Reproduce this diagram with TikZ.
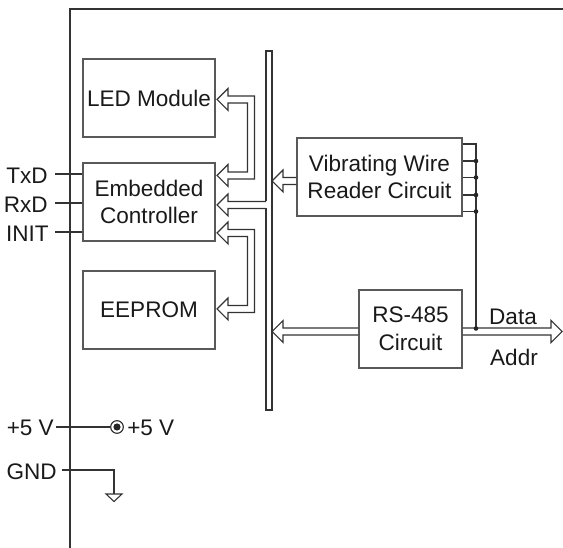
\documentclass[tikz,border=0pt]{standalone}
\usepackage{fontspec}
\setmainfont{Liberation Sans}
\begin{document}
\begin{tikzpicture}[x=0.75pt,y=-0.75pt,
  every node/.style={font=\fontsize{16.9}{20.8}\selectfont, text=black!90},
  box/.style={draw=black!65, line width=0.9pt, minimum width=99pt, minimum height=58.5pt, inner sep=0pt, align=center},
  wire/.style={draw=black!80, line width=0.8pt},
  hollow/.style={draw=black!80, line width=0.8pt, line join=miter},
  jdot/.style={fill=black!85}]
\useasboundingbox (0,0) rectangle (563,548);
% frame
\draw[wire] (70,548) -- (70,9) -- (563,9);
% boxes
\node[box, minimum width=99pt] (led) at (149,98) {LED Module};
\node[box] (ctrl) at (149,202) {Embedded\\Controller};
\node[box] (eep) at (149,310) {EEPROM};
\node[box, minimum width=123.75pt] (vw) at (379.5,177) {Vibrating Wire\\Reader Circuit};
\node[box, minimum width=77.25pt] (rs) at (410.5,329) {RS-485\\Circuit};
% bus
\draw[hollow] (266,201.5) -- (266,51) -- (272,51) -- (272,410) -- (266,410) -- (266,208.5);
% U arrow LED <-> controller
\draw[hollow] (217,99.5) -- (228,88.5) -- (228,96) -- (254.5,96) -- (254.5,179) -- (228,179) -- (228,186.5) -- (217,175.5) -- (228,164.5) -- (228,172) -- (247.5,172) -- (247.5,103) -- (228,103) -- (228,110.5) -- cycle;
% U arrow controller <-> EEPROM
\draw[hollow] (217,233) -- (228,222) -- (228,229.5) -- (254.5,229.5) -- (254.5,312.5) -- (228,312.5) -- (228,320) -- (217,309) -- (228,298) -- (228,305.5) -- (247.5,305.5) -- (247.5,236.5) -- (228,236.5) -- (228,244) -- cycle;
% bus -> controller
\draw[hollow] (266,201.5) -- (228,201.5) -- (228,194) -- (217,205) -- (228,216) -- (228,208.5) -- (266,208.5);
% VW -> bus
\draw[hollow] (vw.west |- 0,177.5) -- (283,177.5) -- (283,170) -- (272,181) -- (283,192) -- (283,184.5) -- (vw.west |- 0,184.5);
% RS-485 -> bus
\draw[hollow] (rs.west |- 0,328) -- (283,328) -- (283,320.5) -- (272,331.5) -- (283,342.5) -- (283,335) -- (rs.west |- 0,335);
% RS-485 -> Data/Addr
\draw[hollow] (rs.east |- 0,328) -- (551,328) -- (551,320.5) -- (562,331.5) -- (551,342.5) -- (551,335) -- (rs.east |- 0,335);
\node (data) at (513,317) {Data};
\node (addr) at (514,357) {Addr};
% VW taps
\coordinate (tap) at (476,144);
\coordinate (tapend) at (476,328.5);
\draw[wire] (vw.east |- tap) -- (tap) -- (tapend);
\foreach \yy in {161,177.5,195,211.5} {
  \draw[wire] (vw.east |- 0,\yy) -- (476,\yy);
  \fill[jdot] (476,\yy) circle (2.3);
}
\fill[jdot] (tapend) circle (2.3);
% left signals
\node[anchor=east, inner sep=0pt] (txd) at (48,176) {TxD};
\node[anchor=east, inner sep=0pt] (rxd) at (48,205) {RxD};
\node[anchor=east, inner sep=0pt] (init) at (49,234) {INIT};
\draw[wire] (55,174) -- (ctrl.west |- 0,174);
\draw[wire] (55,203) -- (ctrl.west |- 0,203);
\draw[wire] (55,232) -- (ctrl.west |- 0,232);
% power
\node[anchor=east, inner sep=0pt] (p5a) at (54,428) {+5 V};
\node[draw=black!85, line width=0.8pt, circle, minimum size=9.5pt, inner sep=0pt] (pin) at (117,427) {};
\fill[jdot] (pin.center) circle (3.6);
\node[anchor=west, inner sep=0pt] (p5b) at (127,428) {+5 V};
\draw[wire] (56,427) -- (pin.west);
\node[anchor=east, inner sep=0pt] (gnd) at (57,472) {GND};
\coordinate (gd) at (114,494);
\draw[wire] (62,470) -- (114,470) -- (gd);
\draw[wire] (106,494) -- (122,494) -- (114,501.5) -- cycle;
\end{tikzpicture}
\end{document}
